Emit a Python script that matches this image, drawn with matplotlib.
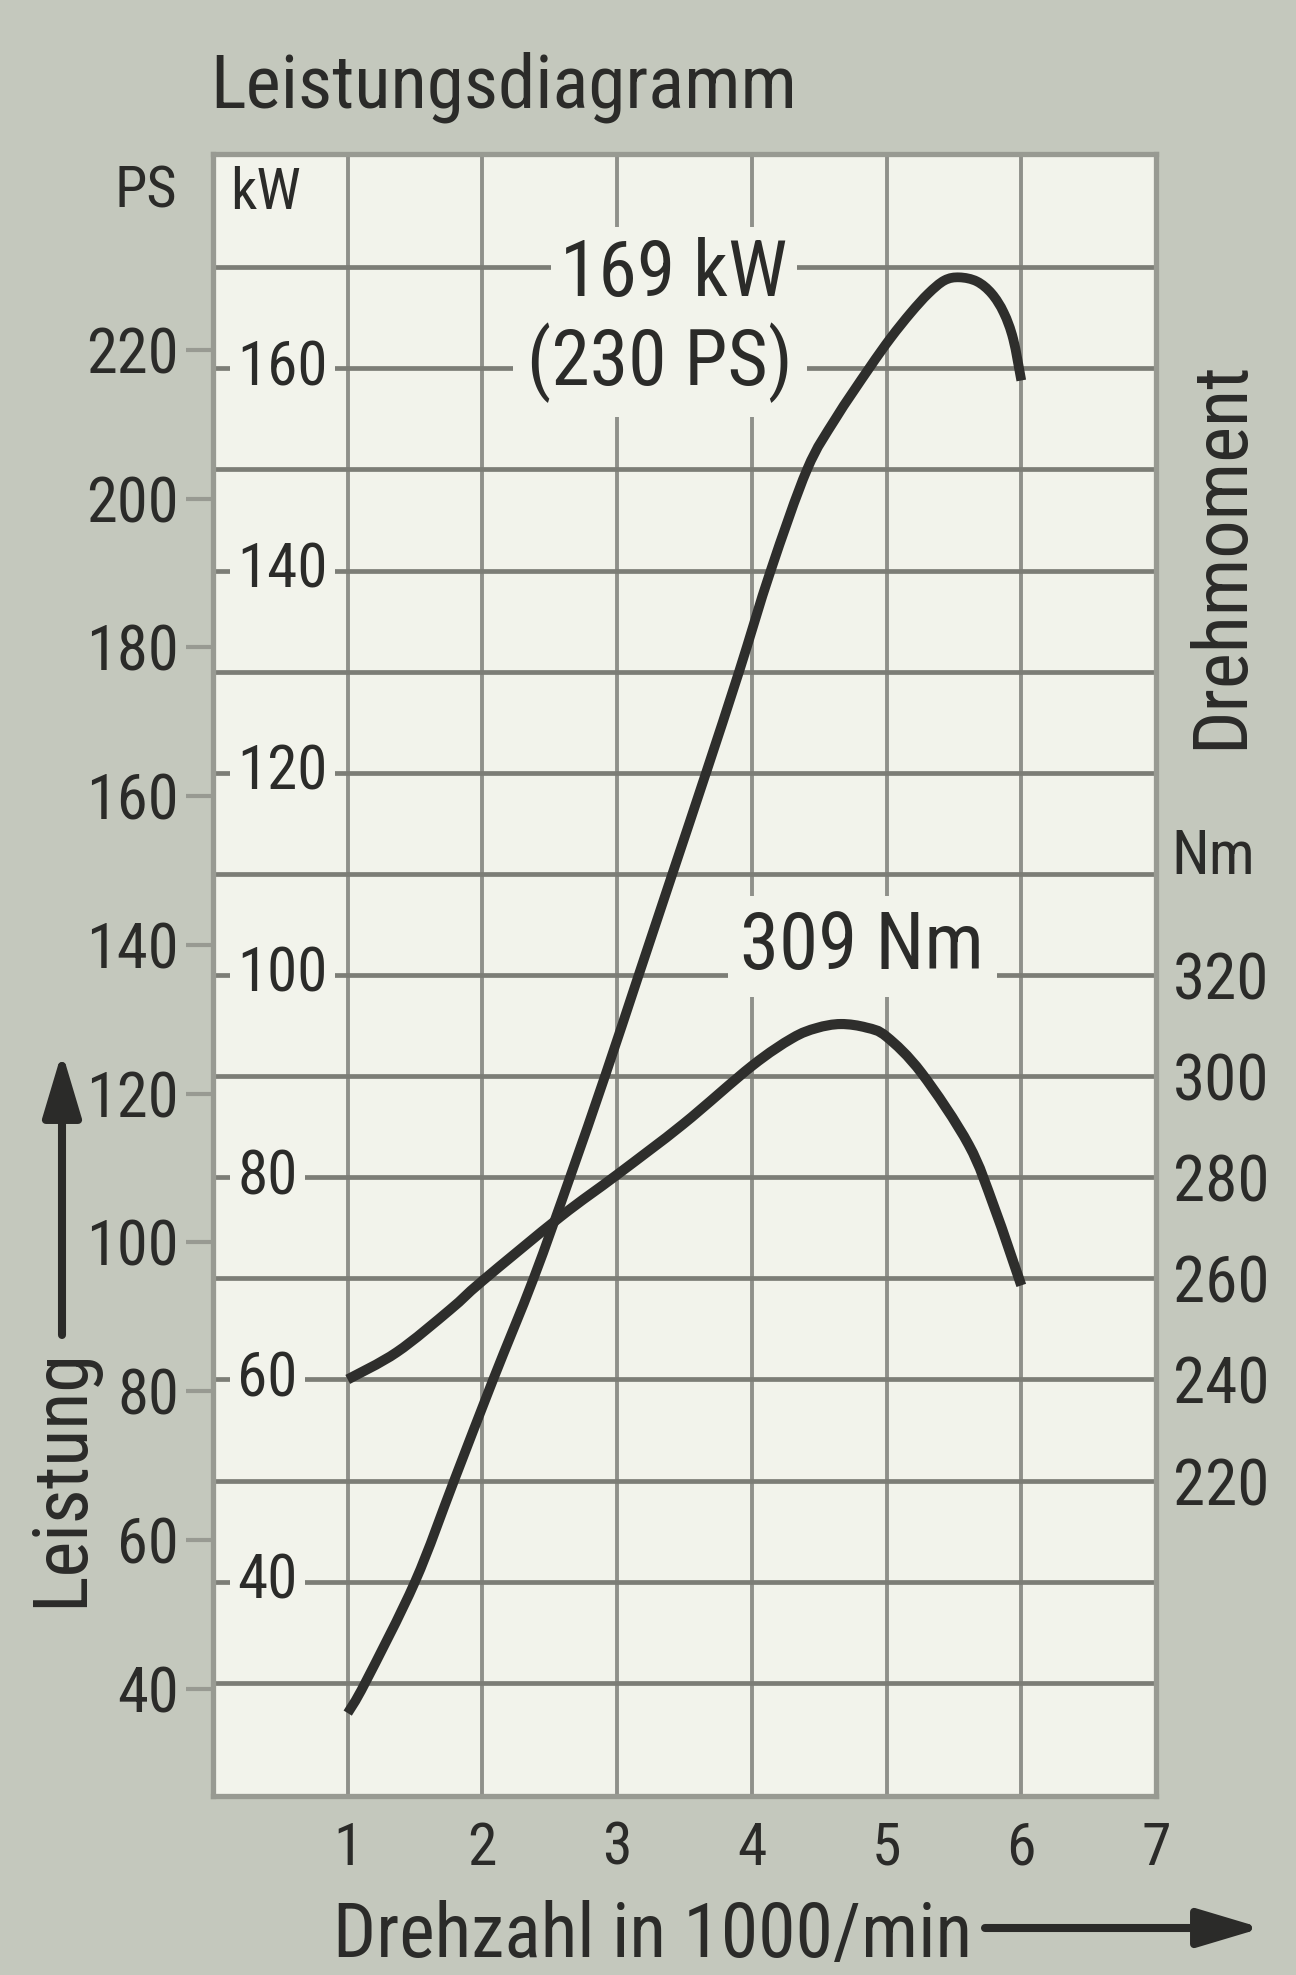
import matplotlib
matplotlib.use("Agg")
import matplotlib.pyplot as plt
from matplotlib.path import Path
from matplotlib.patches import PathPatch

plt.rcParams['font.family'] = ['Roboto Condensed', 'Archivo Narrow', 'Liberation Sans', 'DejaVu Sans']

# ---- data ----
power_rpm = [1.00, 1.13, 1.50, 1.79, 2.08, 2.38, 2.65, 2.91, 3.16, 3.41, 3.66, 3.905,
             4.14, 4.41, 4.62, 4.87, 5.03, 5.18, 5.31, 5.43, 5.54, 5.67, 5.78, 5.87, 5.94, 6.00]
power_kw = [27, 30, 40, 50, 60, 70, 80, 90, 100, 110, 120, 130,
            140, 150, 155, 160, 163, 165.5, 167.4, 168.7, 169, 168.6, 167.4, 165.5, 162.9, 158.8]

torque_rpm = [1.0, 1.365, 1.76, 2.0, 2.58, 3.0, 3.49, 4.0, 4.3, 4.48, 4.66, 4.85, 5.0,
              5.26, 5.61, 5.8, 6.0]
torque_nm = [240, 245.4, 253.8, 259.5, 272.2, 280.5, 290.5, 302.0, 307.5, 309.5, 310.3, 309.6, 307.8,
             300.6, 286.4, 274, 258.6]

rpm_ticks = [1, 2, 3, 4, 5, 6, 7]
kw_ticks = [40, 60, 80, 100, 120, 140, 160]
ps_ticks = [40, 60, 80, 100, 120, 140, 160, 180, 200, 220]
nm_ticks = [220, 240, 260, 280, 300, 320]
kw_grid = list(range(30, 171, 10))

PS_PER_KW = 1.3596

outer = '#c4c8bd'
inner = '#f2f3eb'
hgrid = '#7c7d76'
vgrid = '#8f908a'
spinec = '#989a92'
curvec = '#2e2e2c'
textc = '#2b2b29'


def smooth_path(xs, ys):
    """Catmull-Rom curve through the read points, as cubic Bezier segments."""
    pts = list(zip(xs, ys))
    P = [pts[0]] + pts + [pts[-1]]
    verts = [pts[0]]
    codes = [Path.MOVETO]
    for i in range(1, len(P) - 2):
        p0, p1, p2, p3 = P[i - 1], P[i], P[i + 1], P[i + 2]
        c1 = (p1[0] + (p2[0] - p0[0]) / 6, p1[1] + (p2[1] - p0[1]) / 6)
        c2 = (p2[0] - (p3[0] - p1[0]) / 6, p2[1] - (p3[1] - p1[1]) / 6)
        verts += [c1, c2, p2]
        codes += [Path.CURVE4] * 3
    return Path(verts, codes)


W, H = 1296, 1975
fig = plt.figure(figsize=(W / 100, H / 100), dpi=100, facecolor=outer)
ax = fig.add_axes([213 / W, 1 - 1796 / H, (1156 - 213) / W, (1796 - 154) / H])
ax.set_facecolor(inner)
ax.set_xlim(0, 7)
ax.set_ylim(18.8, 181.2)

ax.set_xticks(rpm_ticks)
ax.set_xticklabels([str(t) for t in rpm_ticks])
ax.set_yticks(kw_grid)
ax.set_yticklabels([])
ax.tick_params(axis='both', length=0)
ax.tick_params(axis='x', labelsize=43, pad=17, labelcolor=textc)
ax.set_axisbelow(True)
ax.grid(axis='y', color=hgrid, lw=3.4)
ax.grid(axis='x', color=vgrid, lw=2.8)
for s in ax.spines.values():
    s.set_color(spinec)
    s.set_linewidth(3.8)

# curves
ax.add_patch(PathPatch(smooth_path(power_rpm, power_kw), fill=False, ec=curvec, lw=7.0,
                       capstyle='butt', joinstyle='round', zorder=5))
torque_kw = [(n - 120) / 2 for n in torque_nm]
ax.add_patch(PathPatch(smooth_path(torque_rpm, torque_kw), fill=False, ec=curvec, lw=7.3,
                       capstyle='butt', joinstyle='round', zorder=5))

# kW labels inside plot
for v in kw_ticks:
    ax.text(0.18, v, str(v), ha='left', va='center', fontsize=44, color=textc, zorder=4,
            bbox=dict(boxstyle='square,pad=0.12', fc=inner, ec='none'))
ax.text(0.13, 177.3, 'kW', ha='left', va='center', fontsize=42, color=textc, zorder=4)

# PS axis (left, outside)
sec = ax.secondary_yaxis('left', functions=(lambda k: k * PS_PER_KW, lambda p: p / PS_PER_KW))
sec.set_yticks(ps_ticks)
sec.set_yticklabels([str(t) for t in ps_ticks])
sec.tick_params(axis='y', length=19.5, width=3, color=spinec, labelsize=45, pad=5,
                labelcolor=textc)
sec.spines['left'].set_visible(False)
fig.text(146 / W, 1 - 192 / H, 'PS', ha='center', va='center', fontsize=42, color=textc)

# Torque axis (right, outside)
sec2 = ax.secondary_yaxis('right', functions=(lambda k: 2 * k + 120, lambda n: (n - 120) / 2))
sec2.set_yticks(nm_ticks)
sec2.set_yticklabels([str(t) for t in nm_ticks])
sec2.tick_params(axis='y', length=0, labelsize=47, pad=12, labelcolor=textc)
sec2.spines['right'].set_visible(False)
fig.text(1213 / W, 1 - 857 / H, 'Nm', ha='center', va='center', fontsize=44, color=textc)
fig.text(1222 / W, 1 - 555 / H, 'Drehmoment', ha='center', va='center', rotation=90,
         fontsize=55, color=textc)

# annotations
ax.text(3.42, 169.3, '169 kW', ha='center', va='center', fontsize=56, color=textc, zorder=4,
        bbox=dict(boxstyle='square,pad=0.12', fc=inner, ec='none'))
ax.text(3.32, 160.6, '(230 PS)', ha='center', va='center', fontsize=56, color=textc, zorder=4,
        bbox=dict(boxstyle='square,pad=0.18', fc=inner, ec='none'))
ax.text(4.82, 102.8, '309 Nm', ha='center', va='center', fontsize=57, color=textc, zorder=4,
        bbox=dict(boxstyle='square,pad=0.16', fc=inner, ec='none'))

# titles / axis names
fig.text(210 / W, 1 - 108 / H, 'Leistungsdiagramm', ha='left', va='baseline', fontsize=54,
         color=textc)
fig.text(333 / W, 1 - 1957 / H, 'Drehzahl in 1000/min', ha='left', va='baseline', fontsize=54.5,
         color=textc)
fig.text(62 / W, 1 - 1478 / H, 'Leistung', ha='center', va='center', rotation=90, fontsize=55,
         color=textc)

arrow_style = dict(arrowstyle='-|>,head_length=0.97,head_width=0.29', lw=5.8, color=textc,
                   mutation_scale=40, shrinkA=0, shrinkB=0)
ax.annotate('', xy=(1262, H - 1928), xytext=(985, H - 1928), xycoords='figure pixels',
            textcoords='figure pixels', annotation_clip=False, arrowprops=arrow_style)
ax.annotate('', xy=(62, H - 1052), xytext=(62, H - 1335), xycoords='figure pixels',
            textcoords='figure pixels', annotation_clip=False, arrowprops=arrow_style)

fig.savefig('out.png', dpi=100, facecolor=outer)
